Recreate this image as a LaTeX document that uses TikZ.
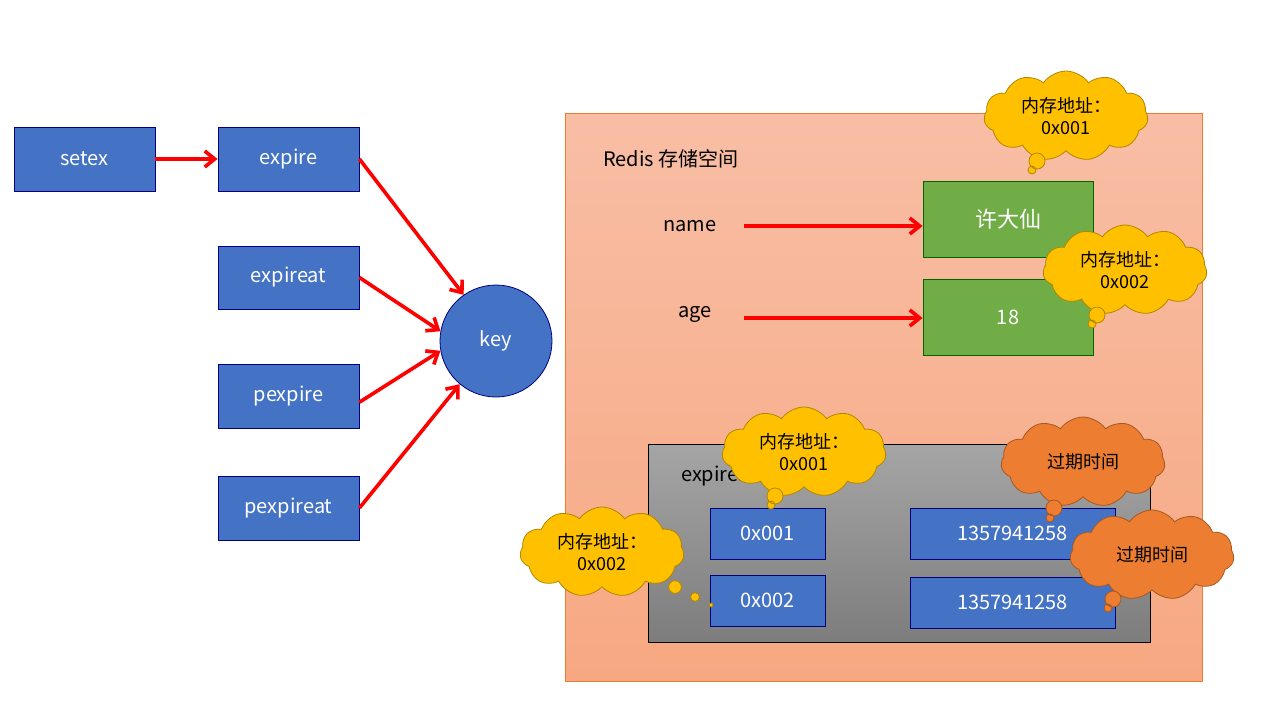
\documentclass[tikz,border=0pt]{standalone}
\usepackage{fontspec}
\setmainfont{Noto Sans CJK SC}
\usetikzlibrary{shapes.symbols,arrows.meta}
\begin{document}
\begin{tikzpicture}[x=0.5pt,y=-0.5pt,
 bx/.style={draw=blue!50!black,fill=blueB,text=white,font=\fontsize{10}{12}\selectfont},
 gx/.style={draw=green!40!black,fill=greenB,text=white,font=\fontsize{11}{13}\selectfont},
 arr/.style={red,line width=1.8pt,-{Straight Barb[length=5pt,width=8pt]}},
 cl/.style={cloud,cloud puffs=11,cloud puff arc=110,draw=yel!70!black,fill=yel,minimum width=82pt,minimum height=45pt,inner sep=0pt,align=center,font=\fontsize{9}{11}\selectfont,aspect=1.8},
 co/.style={cl,draw=org!70!black,fill=org},
 tl/.style={draw=yel!70!black,fill=yel},
 to/.style={draw=org!70!black,fill=org}]
\definecolor{blueB}{HTML}{4472C4}
\definecolor{greenB}{HTML}{70AD47}
\definecolor{yel}{HTML}{FFC000}
\definecolor{org}{HTML}{ED7D31}
\useasboundingbox (0,0) rectangle (1280,720);
\node[bx,minimum width=70.5pt,minimum height=32pt] (setex) at (84.5,159) {setex};
\node[bx,minimum width=70.5pt,minimum height=32pt] (expire) at (288.5,159) {expire};
\node[bx,minimum width=70.5pt,minimum height=31.5pt] (expireat) at (288.5,277.5) {expireat};
\node[bx,minimum width=70.5pt,minimum height=32pt] (pexpire) at (288.5,396) {pexpire};
\node[bx,minimum width=70.5pt,minimum height=32pt] (pexpireat) at (288.5,508) {pexpireat};
\node[bx,circle,minimum size=56pt] (key) at (496,341) {key};
\draw[arr] (setex.east) -- (expire.west);
\draw[arr] (expire.east) -- (key.125);
\draw[arr] (expireat.east) -- (key.170);
\draw[arr] (pexpire.-5) -- (key.190);
\draw[arr] (pexpireat.east) -- (key.230);
\shade[top color={rgb,255:red,248;green,190;blue,165},bottom color={rgb,255:red,247;green,168;blue,130}] (565,113) rectangle (1202,681);
\draw[org] (565,113) rectangle (1202,681);
\node[anchor=west,font=\fontsize{10}{12}\selectfont] (title) at (596,159) {Redis 存储空间};
\node[font=\fontsize{10}{12}\selectfont] (name) at (690,226) {name};
\node[font=\fontsize{10}{12}\selectfont] (age) at (695,314) {age};
\node[gx,minimum width=85pt,minimum height=38pt] (xu) at (1008,219) {许大仙};
\node[gx,minimum width=85pt,minimum height=38pt,font=\fontsize{10}{12}\selectfont] (v18) at (1008,317) {18};
\coordinate (n1) at (744,226); \coordinate (a1) at (744,318);
\draw[arr] (n1) -- (xu.west|-n1);
\draw[arr] (a1) -- (v18.west|-a1);
\shade[top color={rgb,255:red,165;green,165;blue,165},bottom color={rgb,255:red,125;green,125;blue,125}] (648,444) rectangle (1150,642);
\draw[black] (648,444) rectangle (1150,642);
\node[anchor=west,font=\fontsize{10}{12}\selectfont] (exps) at (674,476) {expires};
\node[bx,minimum width=57.5pt,minimum height=25.5pt] (k1) at (767.5,533.5) {0x001};
\node[bx,minimum width=57.5pt,minimum height=25.5pt] (k2) at (767.5,600.5) {0x002};
\node[bx,minimum width=102.5pt,minimum height=25.5pt] (t1) at (1012.5,533.5) {1357941258};
\node[bx,minimum width=102.5pt,minimum height=25.5pt] (t2) at (1012.5,602.5) {1357941258};
% clouds
\node[cl] (c1) at (1066,116) {内存地址：\\0x001};
\draw[tl] (1037,161) circle (4pt) (1032,170) circle (2pt);
\node[cl] (c2) at (1125,270) {内存地址：\\0x002};
\draw[tl] (1097,315) circle (4pt) (1092,324) circle (2pt);
\node[cl] (c3) at (804,452) {内存地址：\\0x001};
\draw[tl] (775,496) circle (4pt) (771,505) circle (2pt);
\node[cl] (c4) at (602,552) {内存地址：\\0x002};
\draw[tl] (675,587) circle (3.2pt) (695,597) circle (2.2pt) (711,605) circle (1pt);
\node[co] (c5) at (1083,462) {过期时间};
\draw[to] (1054,508) circle (4pt) (1050,518) circle (2pt);
\node[co] (c6) at (1152,555) {过期时间};
\draw[to] (1113,599) circle (4pt) (1108,608) circle (2pt);
\end{tikzpicture}
\end{document}
